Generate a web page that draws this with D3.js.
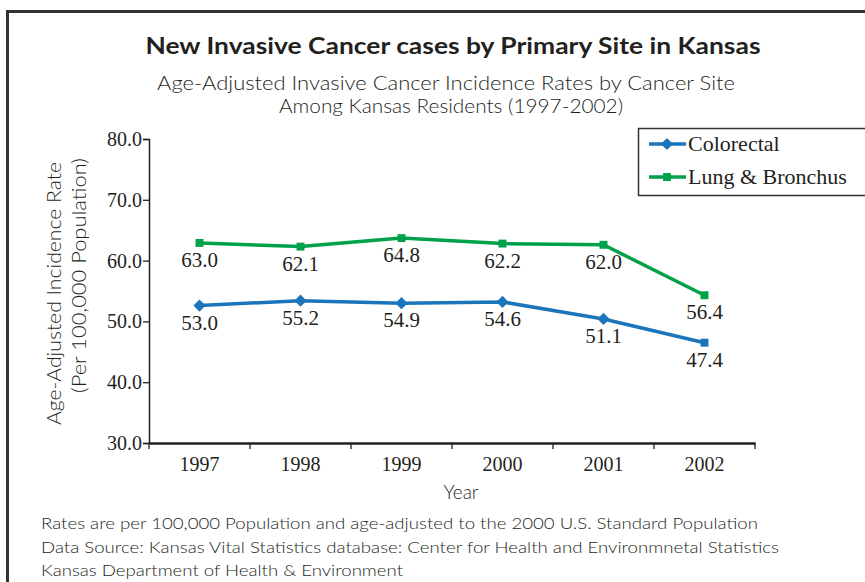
<!DOCTYPE html>
<html>
<head>
<meta charset="utf-8">
<script src="https://cdn.jsdelivr.net/npm/d3@7"></script>
<style>
  body { margin: 0; background: #fff; }
  .serif { font-family: "Liberation Serif", "Times New Roman", serif; fill: #231f20; }
  .sans { font-family: Lato, "Open Sans", sans-serif; fill: #231f20; }
</style>
</head>
<body>
<svg id="chart" width="865" height="582"></svg>
<script>
// data
const years = ["1997", "1998", "1999", "2000", "2001", "2002"];
const colorectal = [52.6, 53.4, 53.0, 53.2, 50.4, 46.5];       // plotted positions
const lung = [62.9, 62.3, 63.7, 62.8, 62.6, 54.3];
const colorectalLabels = ["53.0", "55.2", "54.9", "54.6", "51.1", "47.4"]; // printed labels
const lungLabels = ["63.0", "62.1", "64.8", "62.2", "62.0", "56.4"];
const yTicks = [30, 40, 50, 60, 70, 80];

const series = [
  { name: "Colorectal", values: colorectal, labels: colorectalLabels, color: "#1b75bb", marker: "diamond" },
  { name: "Lung & Bronchus", values: lung, labels: lungLabels, color: "#00a14b", marker: "square" }
];

const svg = d3.select("#chart");

// outer frame (runs off the right and bottom edges)
svg.append("path")
  .attr("d", "M7.5,600 V11.5 H880")
  .attr("fill", "none")
  .attr("stroke", "#333")
  .attr("stroke-width", 3);

// titles
svg.append("text").attr("class", "sans")
  .attr("x", 453).attr("y", 54)
  .attr("text-anchor", "middle")
  .attr("font-size", 22).attr("font-weight", "bold")
  .attr("textLength", 615).attr("lengthAdjust", "spacingAndGlyphs")
  .text("New Invasive Cancer cases by Primary Site in Kansas");
svg.append("text").attr("class", "sans")
  .attr("x", 446).attr("y", 90)
  .attr("text-anchor", "middle")
  .attr("font-size", 19).attr("font-weight", 300)
  .attr("textLength", 578).attr("lengthAdjust", "spacingAndGlyphs")
  .text("Age-Adjusted Invasive Cancer Incidence Rates by Cancer Site");
svg.append("text").attr("class", "sans")
  .attr("x", 451).attr("y", 113)
  .attr("text-anchor", "middle")
  .attr("font-size", 19).attr("font-weight", 300)
  .attr("textLength", 344).attr("lengthAdjust", "spacingAndGlyphs")
  .text("Among Kansas Residents (1997-2002)");

// scales
const x = d3.scaleBand().domain(years).range([149, 755]);
const y = d3.scaleLinear().domain([30, 80]).range([443, 139]);
const cx = d => x(d) + x.bandwidth() / 2;

// y axis
const yAxis = svg.append("g")
  .attr("transform", "translate(149,0)")
  .call(d3.axisLeft(y).tickValues(yTicks).tickFormat(d3.format(".1f")).tickSize(6).tickPadding(1));
yAxis.select(".domain").attr("stroke", "#231f20").attr("stroke-width", 1.5);
yAxis.selectAll(".tick line").attr("stroke", "#231f20").attr("stroke-width", 1.3);
yAxis.selectAll(".tick text")
  .attr("class", "serif")
  .attr("font-size", 20)
  .attr("fill", "#231f20");

// x axis
const xAxis = svg.append("g")
  .attr("transform", "translate(0,443)")
  .call(d3.axisBottom(x).tickSize(0).tickPadding(14));
xAxis.select(".domain").attr("stroke", "#231f20").attr("stroke-width", 2.5);
xAxis.selectAll(".tick text")
  .attr("class", "serif")
  .attr("font-size", 20)
  .attr("fill", "#231f20");
// boundary ticks between categories
xAxis.selectAll(".bound")
  .data(years.concat(["end"]))
  .enter().append("line")
  .attr("class", "bound")
  .attr("x1", (d, i) => x.range()[0] + i * x.step())
  .attr("x2", (d, i) => x.range()[0] + i * x.step())
  .attr("y1", 0).attr("y2", 6)
  .attr("stroke", "#231f20").attr("stroke-width", 1.3);

// axis titles
svg.append("text").attr("class", "sans")
  .attr("x", 461).attr("y", 499)
  .attr("text-anchor", "middle")
  .attr("font-size", 19).attr("font-weight", 300)
  .text("Year");
svg.append("text").attr("class", "sans")
  .attr("transform", "translate(53,293.5) rotate(-90)")
  .attr("text-anchor", "middle").attr("dominant-baseline", "central")
  .attr("font-size", 19).attr("font-weight", 300)
  .attr("textLength", 263).attr("lengthAdjust", "spacingAndGlyphs")
  .text("Age-Adjusted Incidence Rate");
svg.append("text").attr("class", "sans")
  .attr("transform", "translate(78,275.5) rotate(-90)")
  .attr("text-anchor", "middle").attr("dominant-baseline", "central")
  .attr("font-size", 19).attr("font-weight", 300)
  .attr("textLength", 235).attr("lengthAdjust", "spacingAndGlyphs")
  .text("(Per 100,000 Population)");

// lines, markers, labels
const line = d3.line().x((d, i) => cx(years[i])).y(d => y(d));
const diamond = d3.symbol().type(d3.symbolDiamond2).size(95);
const square = d3.symbol().type(d3.symbolSquare2).size(80);

series.forEach(s => {
  const g = svg.append("g");
  g.append("path")
    .datum(s.values)
    .attr("d", line)
    .attr("fill", "none")
    .attr("stroke", s.color)
    .attr("stroke-width", 3.5)
    .attr("stroke-linejoin", "round");
  g.selectAll(".marker")
    .data(s.values)
    .enter().append("path")
    .attr("class", "marker")
    .attr("transform", (d, i) => `translate(${cx(years[i])},${y(d)})`)
    .attr("d", (d, i) => (s.marker === "square" || i === years.length - 1) ? square() : diamond())
    .attr("fill", s.color);
  g.selectAll(".lbl")
    .data(s.values)
    .enter().append("text")
    .attr("class", "serif lbl")
    .attr("x", (d, i) => cx(years[i]))
    .attr("y", d => y(d) + 24)
    .attr("text-anchor", "middle")
    .attr("font-size", 21)
    .text((d, i) => s.labels[i]);
});

// legend
const legend = svg.append("g");
legend.append("rect")
  .attr("x", 638.5).attr("y", 128.5)
  .attr("width", 240).attr("height", 67)
  .attr("fill", "#fff")
  .attr("stroke", "#333").attr("stroke-width", 1.5);
const items = legend.selectAll(".item")
  .data(series)
  .enter().append("g")
  .attr("class", "item")
  .attr("transform", (d, i) => `translate(0,${144 + i * 33})`);
items.append("line")
  .attr("x1", 649).attr("x2", 686)
  .attr("stroke", d => d.color).attr("stroke-width", 3.5);
items.append("path")
  .attr("transform", "translate(667,0)")
  .attr("d", d => d.marker === "square" ? square() : diamond())
  .attr("fill", d => d.color);
items.append("text")
  .attr("class", "serif")
  .attr("x", 688).attr("y", 7)
  .attr("font-size", 22)
  .text(d => d.name);

// footnotes
const notes = [
  "Rates are per 100,000 Population and age-adjusted to the 2000 U.S. Standard Population",
  "Data Source: Kansas Vital Statistics database: Center for Health and Environmnetal Statistics",
  "Kansas Department of Health & Environment"
];
const noteWidths = [717, 738, 362];
svg.selectAll(".note")
  .data(notes)
  .enter().append("text")
  .attr("class", "sans note")
  .attr("x", 41)
  .attr("y", (d, i) => 529 + i * 23.5)
  .attr("font-size", 16.5).attr("font-weight", 300)
  .attr("textLength", (d, i) => noteWidths[i]).attr("lengthAdjust", "spacingAndGlyphs")
  .text(d => d);
</script>
</body>
</html>
